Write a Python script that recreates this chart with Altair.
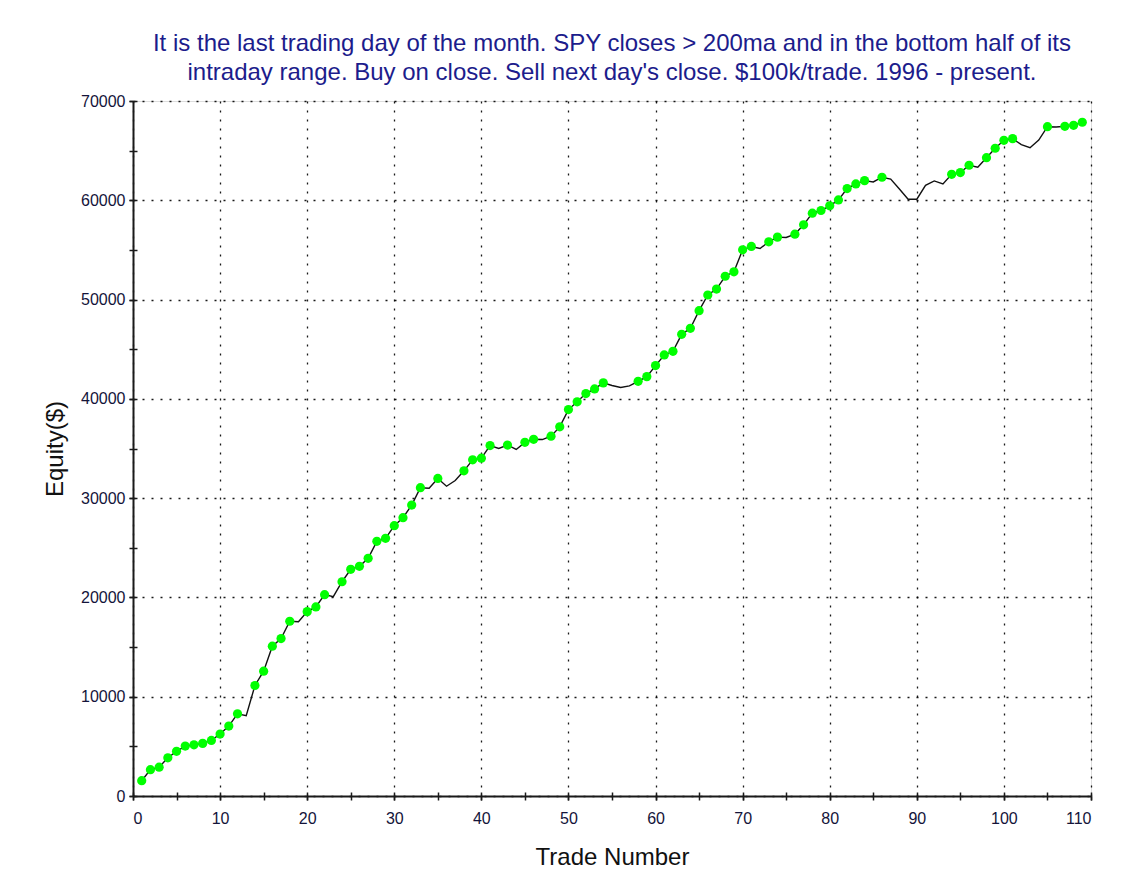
import altair as alt
import pandas as pd

trades = list(range(1, 110))
equity = [
    1540, 2650, 2900, 3850, 4500, 5030, 5160, 5300, 5600, 6240,
    7040, 8280, 8080, 11130, 12570, 15090, 15860, 17600, 17550, 18570,
    19040, 20280, 20080, 21580, 22830, 23130, 23940, 25650, 25950, 27230,
    28030, 29300, 31050, 31000, 31980, 31200, 31780, 32750, 33860, 34020,
    35300, 35000, 35350, 34900, 35620, 35930, 35900, 36240, 37180, 38920,
    39700, 40530, 41000, 41610, 41350, 41150, 41300, 41770, 42240, 43350,
    44420, 44790, 46500, 47100, 48880, 50460, 51060, 52350, 52800, 55010,
    55350, 55140, 55820, 56290, 56250, 56590, 57530, 58700, 58970, 59440,
    60040, 61180, 61650, 61980, 61850, 62320, 62130, 61140, 60110, 60110,
    61500, 61950, 61650, 62620, 62790, 63530, 63330, 64290, 65240, 66040,
    66210, 65600, 65300, 66070, 67410, 67380, 67450, 67550, 67860,
]

title_lines = [
    "It is the last trading day of the month. SPY closes > 200ma and in the bottom half of its",
    "intraday range. Buy on close. Sell next day's close. $100k/trade. 1996 - present.",
]
x_label_values = list(range(0, 111, 10))
x_tick_values = list(range(0, 111, 5))
y_label_values = list(range(0, 70001, 10000))
y_tick_values = list(range(0, 70001, 5000))

df = pd.DataFrame({"trade": trades, "equity": equity})
running_max = df["equity"].cummax().shift(1).fillna(-1)
df["new_high"] = df["equity"] > running_max

FONT = "Liberation Sans"
LABEL_COLOR = "#14143a"

xscale = alt.Scale(domain=[0, 110], nice=False, zero=True)
yscale = alt.Scale(domain=[0, 70000], nice=False, zero=True)

main_x_axis = alt.Axis(
    orient="bottom", values=x_label_values, grid=True, gridDash=[2, 7],
    gridColor="#000", gridOpacity=0.9, gridWidth=1.3,
    domain=True, domainColor="#1a1a1a", domainWidth=2,
    ticks=True, tickSize=4, tickColor="#1a1a1a", tickWidth=1.5,
    labelFont=FONT, labelFontSize=16, labelColor=LABEL_COLOR, labelPadding=10,
    format="d",
    title="Trade Number", titleFont=FONT, titleFontSize=24, titleFontWeight="normal",
    titleColor="#111", titlePadding=19,
)
main_y_axis = alt.Axis(
    orient="left", values=y_label_values, grid=True, gridDash=[2, 7],
    gridColor="#000", gridOpacity=0.9, gridWidth=1.3,
    domain=True, domainColor="#1a1a1a", domainWidth=2,
    ticks=True, tickSize=4, tickColor="#1a1a1a", tickWidth=1.5,
    labelFont=FONT, labelFontSize=16, labelColor=LABEL_COLOR, labelPadding=4,
    format="d",
    title="Equity($)", titleFont=FONT, titleFontSize=24, titleFontWeight="normal",
    titleColor="#111", titlePadding=13,
)
tick_x_axis = alt.Axis(
    orient="bottom", values=x_tick_values, grid=False, domain=False, labels=False,
    ticks=True, tickSize=8, tickColor="#1a1a1a", tickWidth=1.5, offset=-4, title=None,
)
tick_y_axis = alt.Axis(
    orient="left", values=y_tick_values, grid=False, domain=False, labels=False,
    ticks=True, tickSize=8, tickColor="#1a1a1a", tickWidth=1.5, offset=-4, title=None,
)

line = alt.Chart(df).mark_line(color="#111", strokeWidth=1.4).encode(
    x=alt.X("trade:Q", scale=xscale, axis=main_x_axis),
    y=alt.Y("equity:Q", scale=yscale, axis=main_y_axis),
)

points = alt.Chart(df).transform_filter("datum.new_high").mark_circle(
    color="#00ff00", opacity=1, size=85
).encode(
    x=alt.X("trade:Q", scale=xscale, axis=tick_x_axis),
    y=alt.Y("equity:Q", scale=yscale, axis=tick_y_axis),
)

chart = alt.layer(line, points).resolve_axis(
    x="independent", y="independent"
).properties(
    width=958,
    height=695,
    title=alt.TitleParams(
        text=title_lines, font=FONT, fontSize=24, fontWeight="normal",
        color="#1c1c8c", lineHeight=29, offset=8, anchor="middle",
    ),
    autosize=alt.AutoSizeParams(type="none"),
    padding={"left": 125, "top": 93, "right": 45, "bottom": 82},
).configure_view(
    stroke="#444", strokeWidth=2
).configure(background="white")

chart.save("out.html", embed_options={"renderer": "svg", "actions": False})
